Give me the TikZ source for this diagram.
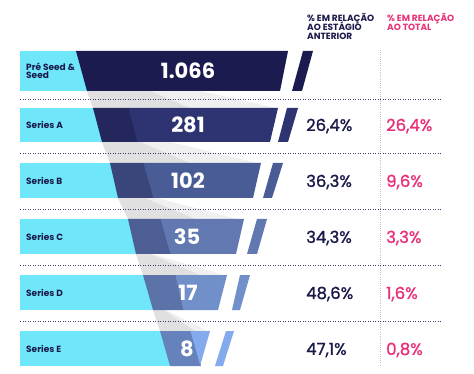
\documentclass[tikz,border=0pt]{standalone}
\usepackage{fontspec}
\setmainfont{Poppins}
\newfontfamily\pctfont{Poppins}[FakeBold=1.2]
\definecolor{cyanbar}{HTML}{6FE6FA}
\definecolor{navy}{HTML}{1A1A4B}
\definecolor{pinkt}{HTML}{E8317A}
\definecolor{c0}{HTML}{1B1B4F}
\definecolor{c1}{HTML}{2E3472}
\definecolor{s1}{HTML}{23275C}
\definecolor{c2}{HTML}{4A5C96}
\definecolor{s2}{HTML}{3A4679}
\definecolor{c3}{HTML}{6178B0}
\definecolor{s3}{HTML}{4C5E94}
\definecolor{c4}{HTML}{7190CA}
\definecolor{s4}{HTML}{5C73AA}
\definecolor{c5}{HTML}{82AAEC}
\definecolor{s5}{HTML}{6682BC}
\tikzset{
  bandlight/.style={fill=black!6},
  banddark/.style={fill=black!12},
  dotfill/.style={fill=navy!85},
  vsep/.style={draw=black!25, line width=0.8pt, dash pattern=on 0.9pt off 1.3pt},
  rowlab/.style={anchor=west, text=navy, font=\bfseries\fontsize{9}{9}\selectfont, inner sep=0pt, align=left},
  bignum/.style={text=white, font=\bfseries\fontsize{21}{21}\selectfont, inner sep=0pt},
  pct/.style={anchor=west, text=navy, font=\pctfont\fontsize{16.5}{16.5}\selectfont, inner sep=0pt},
  pctp/.style={anchor=west, text=pinkt, font=\pctfont\fontsize{16.5}{16.5}\selectfont, inner sep=0pt},
  hdr/.style={anchor=base west, font=\bfseries\fontsize{9}{9}\selectfont, inner sep=0pt},
}
\begin{document}
\begin{tikzpicture}[x=1pt,y=-1pt]
\useasboundingbox (0,0) rectangle (474,374);
\fill[white] (0,0) rectangle (474,374);

% shadows between rows (two tones)
\fill[bandlight] (87,91) -- (200,91) -- (277,108) -- (93,108) -- cycle;
\fill[banddark]  (87,91) -- (150,91) -- (190,108) -- (93,108) -- cycle;
\fill[bandlight] (102,142) -- (170,142) -- (257,163) -- (110,163) -- cycle;
\fill[banddark]  (102,142) -- (140,142) -- (190,163) -- (110,163) -- cycle;
\fill[bandlight] (118,198) -- (157,198) -- (237,219) -- (128,219) -- cycle;
\fill[banddark]  (118,198) -- (145,198) -- (195,219) -- (128,219) -- cycle;
\fill[bandlight] (136,254) -- (152,254) -- (224,275) -- (143,275) -- cycle;
\fill[banddark]  (136,254) -- (150,254) -- (200,275) -- (143,275) -- cycle;
\fill[bandlight] (153,310) -- (166,310) -- (207,331) -- (160,331) -- cycle;
\fill[banddark]  (153,310) -- (164,310) -- (195,331) -- (160,331) -- cycle;

% Pre seed
\fill[cyanbar] (20,51) rectangle (92,91);
\fill[c0] (76,51) -- (288,51) -- (280,91) -- (87,91) -- cycle;
\fill[c0] (303,51) -- (313,51) -- (302,91) -- (292,91) -- cycle;
% Series A
\fill[cyanbar] (20,108) rectangle (106,142);
\fill[s1] (93,108) -- (129,108) -- (138,142) -- (102,142) -- cycle;
\fill[c1] (128.5,108) -- (278,108) -- (270,142) -- (137.5,142) -- cycle;
\fill[c1] (287,108) -- (298,108) -- (288,142) -- (278,142) -- cycle;
% Series B
\fill[cyanbar] (20,163) rectangle (122,198);
\fill[s2] (110,163) -- (144,163) -- (154,198) -- (118,198) -- cycle;
\fill[c2] (143.5,163) -- (261,163) -- (253,198) -- (153.5,198) -- cycle;
\fill[c2] (273,163) -- (283,163) -- (272,198) -- (263,198) -- cycle;
% Series C
\fill[cyanbar] (20,219) rectangle (140,254);
\fill[s3] (128,219) -- (161,219) -- (171,254) -- (136,254) -- cycle;
\fill[c3] (160.5,219) -- (244,219) -- (236,254) -- (170.5,254) -- cycle;
\fill[c3] (257,219) -- (267,219) -- (257,254) -- (247,254) -- cycle;
% Series D
\fill[cyanbar] (20,275) rectangle (157,310);
\fill[s4] (143,275) -- (176,275) -- (184,310) -- (153,310) -- cycle;
\fill[c4] (175.5,275) -- (227,275) -- (218,310) -- (183.5,310) -- cycle;
\fill[c4] (240,275) -- (250,275) -- (240,310) -- (232,310) -- cycle;
% Series E
\fill[cyanbar] (20,331) rectangle (174,366);
\fill[s5] (160,331) -- (191,331) -- (201,366) -- (170,366) -- cycle;
\fill[c5] (190.5,331) -- (210,331) -- (200,366) -- (200.5,366) -- cycle;
\fill[c5] (226,331) -- (234,331) -- (223,366) -- (215,366) -- cycle;

% separators
\draw[vsep] (380,50) -- (380,366);
\foreach \yy in {98.7,152.7,208.7,264.7,320.7}{
  \foreach \xx in {20,22.5,...,440}{
    \fill[dotfill] (\xx,\yy) rectangle ++(1.4,1.6);
  }
}

% row labels
\node[rowlab] (l0) at (26,71) {Pré Seed \&\\[-0.6pt]Seed};
\node[rowlab] (l1) at (26,125) {Series A};
\node[rowlab] (l2) at (26,181) {Series B};
\node[rowlab] (l3) at (26,237) {Series C};
\node[rowlab] (l4) at (26,293) {Series D};
\node[rowlab] (l5) at (26,349) {Series E};

% numbers
\node[bignum] (n0) at (188,71) {1.066};
\node[bignum] (n1) at (188,125) {281};
\node[bignum] (n2) at (188,181) {102};
\node[bignum] (n3) at (187,237) {35};
\node[bignum] (n4) at (188,293) {17};
\node[bignum] (n5) at (187,349) {8};

% percentages
\node[pct] (p1) at (306,126) {26,4\%};
\node[pct] (p2) at (306,182) {36,3\%};
\node[pct] (p3) at (306,238) {34,3\%};
\node[pct] (p4) at (306,294) {48,6\%};
\node[pct] (p5) at (306,350) {47,1\%};
\node[pctp] (q1) at (386,126) {26,4\%};
\node[pctp] (q2) at (386,182) {9,6\%};
\node[pctp] (q3) at (386,238) {3,3\%};
\node[pctp] (q4) at (386,294) {1,6\%};
\node[pctp] (q5) at (386,350) {0,8\%};

% headers
\node[hdr, text=navy] (h1) at (307,22) {\% EM RELAÇÃO};
\node[hdr, text=navy] (h2) at (307,31) {AO ESTÁGIO};
\node[hdr, text=navy] (h3) at (307,40) {ANTERIOR};
\node[hdr, text=pinkt] (h4) at (387,22) {\% EM RELAÇÃO};
\node[hdr, text=pinkt] (h5) at (387,31) {AO TOTAL};
\end{tikzpicture}
\end{document}
